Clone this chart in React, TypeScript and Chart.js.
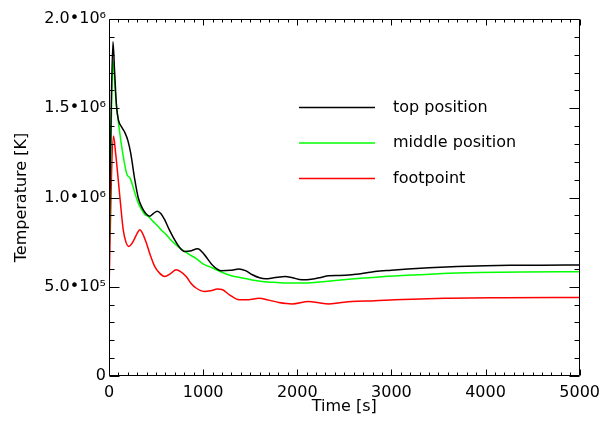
import React, { useEffect, useRef } from "react";
import { Chart, registerables } from "chart.js";

Chart.register(...registerables);

// ---- data ----
const topTime = [0, 22, 42, 60, 80, 100, 140, 170, 200, 230, 274, 310, 345, 390, 432, 470, 514, 550, 591, 640, 696, 750, 802, 860, 942, 1013, 1100, 1189, 1290, 1382, 1450, 1523, 1600, 1664, 1750, 1874, 1950, 2050, 2150, 2250, 2332, 2450, 2578, 2700, 2824, 3000, 3176, 3400, 3700, 4000, 4262, 4600, 5000];
const topTemp = [620000, 1450000, 1872000, 1700000, 1510000, 1435000, 1390000, 1362000, 1320000, 1250000, 1100000, 1000000, 950000, 910000, 895000, 910000, 923000, 910000, 876000, 820000, 764000, 720000, 698000, 700000, 713000, 680000, 620000, 590000, 592000, 600000, 590000, 567000, 550000, 545000, 550000, 558000, 550000, 539000, 542000, 552000, 562000, 563000, 567000, 575000, 585000, 593000, 600000, 607000, 614000, 618000, 620000, 621000, 622000];

const midTime = [0, 22, 42, 70, 105, 151, 190, 222, 250, 274, 310, 345, 380, 415, 470, 520, 560, 608, 660, 731, 800, 855, 920, 995, 1100, 1206, 1300, 1417, 1520, 1628, 1750, 1910, 2085, 2300, 2578, 2900, 3281, 3600, 3914, 4400, 5000];
const midTemp = [614000, 1350000, 1766000, 1570000, 1400000, 1232000, 1130000, 1110000, 1070000, 1026000, 970000, 933000, 905000, 895000, 865000, 839000, 815000, 792000, 760000, 726000, 700000, 680000, 660000, 630000, 605000, 580000, 562000, 549000, 538000, 530000, 525000, 521000, 521000, 530000, 543000, 556000, 567000, 575000, 580000, 583000, 584000];

const footTime = [0, 25, 48, 70, 98, 125, 151, 180, 211, 240, 267, 300, 327, 360, 397, 440, 485, 540, 591, 650, 714, 760, 820, 870, 925, 1013, 1080, 1153, 1200, 1280, 1382, 1480, 1593, 1700, 1804, 1945, 2121, 2230, 2332, 2450, 2578, 2824, 3035, 3563, 4200, 5000];
const footTemp = [466000, 1100000, 1344000, 1250000, 1100000, 950000, 820000, 750000, 726000, 740000, 764000, 800000, 820000, 795000, 745000, 675000, 614000, 575000, 558000, 572000, 595000, 585000, 558000, 520000, 493000, 474000, 478000, 487000, 485000, 455000, 427000, 427000, 436000, 425000, 412000, 404000, 417000, 410000, 404000, 410000, 417000, 421000, 427000, 436000, 439000, 440000];

const seriesLabels = ["top position", "middle position", "footpoint"];
const seriesColors = ["#000000", "#00ff00", "#ff0000"];

const xMax = 5000;
const yMax = 2000000;
const xMajorStep = 1000;
const xMinorStep = 100;
const yMajorStep = 500000;
const yMinorStep = 100000;

const FONT = "'DejaVu Sans', sans-serif";

const sup: Record<string, string> = { "0": "⁰", "1": "¹", "2": "²", "3": "³", "4": "⁴", "5": "⁵", "6": "⁶", "7": "⁷", "8": "⁸", "9": "⁹" };

function sciLabel(v: number): string {
  if (v === 0) return "0";
  const e = Math.floor(Math.log10(v) + 1e-9);
  const m = v / Math.pow(10, e);
  return m.toFixed(1) + "•10" + String(e).split("").map((c) => sup[c]).join("");
}

function zip(t: number[], v: number[]) {
  return t.map((x, i) => ({ x, y: v[i] }));
}

const framePlugin = {
  id: "frame",
  afterDatasetsDraw(chart: any) {
    const { ctx, chartArea, scales } = chart;
    const { left, right, top, bottom } = chartArea;
    const x = scales.x;
    const y = scales.y;
    ctx.save();
    ctx.strokeStyle = "#000";
    ctx.lineWidth = 1;
    ctx.beginPath();
    const L = Math.round(left) + 0.5;
    const R = Math.round(right) - 0.5;
    const T = Math.round(top) + 0.5;
    const B = Math.round(bottom) - 0.5;
    ctx.moveTo(L, T);
    ctx.lineTo(R, T);
    ctx.lineTo(R, B);
    ctx.lineTo(L, B);
    ctx.closePath();
    for (let v = 0; v <= xMax; v += xMinorStep) {
      const px = Math.round(x.getPixelForValue(v)) + 0.5;
      const len = v % xMajorStep === 0 ? 6 : 3;
      ctx.moveTo(px, B);
      ctx.lineTo(px, B - len);
      ctx.moveTo(px, T);
      ctx.lineTo(px, T + len);
    }
    for (let v = 0; v <= yMax; v += yMinorStep) {
      const py = Math.round(y.getPixelForValue(v)) + 0.5;
      const len = v % yMajorStep === 0 ? 10 : 5;
      ctx.moveTo(L, py);
      ctx.lineTo(L + len, py);
      ctx.moveTo(R, py);
      ctx.lineTo(R - len, py);
    }
    ctx.stroke();
    ctx.restore();
  },
};

const legendPlugin = {
  id: "customLegend",
  afterDraw(chart: any) {
    const { ctx } = chart;
    const rows = [107.5, 143, 178.5];
    ctx.save();
    ctx.font = "16px " + FONT;
    ctx.textBaseline = "middle";
    ctx.textAlign = "left";
    chart.data.datasets.forEach((ds: any, i: number) => {
      const yy = rows[i];
      ctx.strokeStyle = ds.borderColor;
      ctx.lineWidth = 1.5;
      ctx.beginPath();
      ctx.moveTo(299, yy);
      ctx.lineTo(375, yy);
      ctx.stroke();
      ctx.fillStyle = "#000";
      ctx.fillText(ds.label, 393, yy);
    });
    ctx.restore();
  },
};

export default function App() {
  const ref = useRef<HTMLCanvasElement | null>(null);
  useEffect(() => {
    if (!ref.current) return;
    const series = [zip(topTime, topTemp), zip(midTime, midTemp), zip(footTime, footTemp)];
    const chart = new Chart(ref.current, {
      type: "line",
      data: {
        datasets: series.map((d, i) => ({
          label: seriesLabels[i],
          data: d,
          borderColor: seriesColors[i],
          backgroundColor: seriesColors[i],
          borderWidth: 1.5,
          pointRadius: 0,
          fill: false,
          cubicInterpolationMode: "monotone" as const,
        })),
      },
      options: {
        animation: false,
        responsive: true,
        maintainAspectRatio: false,
        layout: { padding: { top: 19, right: 24, left: 0, bottom: 0 } },
        plugins: { legend: { display: false }, tooltip: { enabled: false } },
        scales: {
          x: {
            type: "linear",
            min: 0,
            max: xMax,
            grid: { display: false, drawTicks: false, tickLength: 0 },
            border: { display: false },
            ticks: {
              stepSize: xMajorStep,
              color: "#000",
              font: { family: FONT, size: 16 },
              padding: 7,
              maxRotation: 0,
              callback: (v: any) => String(v),
            },
            title: {
              display: true,
              text: "Time [s]",
              color: "#000",
              font: { family: FONT, size: 16 },
              padding: { top: 0, bottom: 9 },
            },
            afterFit: (s: any) => {
              s.height = 49;
            },
          },
          y: {
            type: "linear",
            min: 0,
            max: yMax,
            grid: { display: false, drawTicks: false, tickLength: 0 },
            border: { display: false },
            ticks: {
              stepSize: yMajorStep,
              color: "#000",
              font: { family: FONT, size: 16 },
              padding: 3,
              callback: (v: any) => sciLabel(Number(v)),
            },
            title: {
              display: true,
              text: "Temperature [K]",
              color: "#000",
              font: { family: FONT, size: 16 },
              padding: { top: 12, bottom: 0 },
            },
            afterFit: (s: any) => {
              s.width = 109;
            },
          },
        },
      },
      plugins: [framePlugin, legendPlugin],
    });
    return () => chart.destroy();
  }, []);
  return (
    <div style={{ position: "absolute", left: 0, top: 0, width: 607, height: 425, background: "#fff" }}>
      <canvas ref={ref} />
    </div>
  );
}
